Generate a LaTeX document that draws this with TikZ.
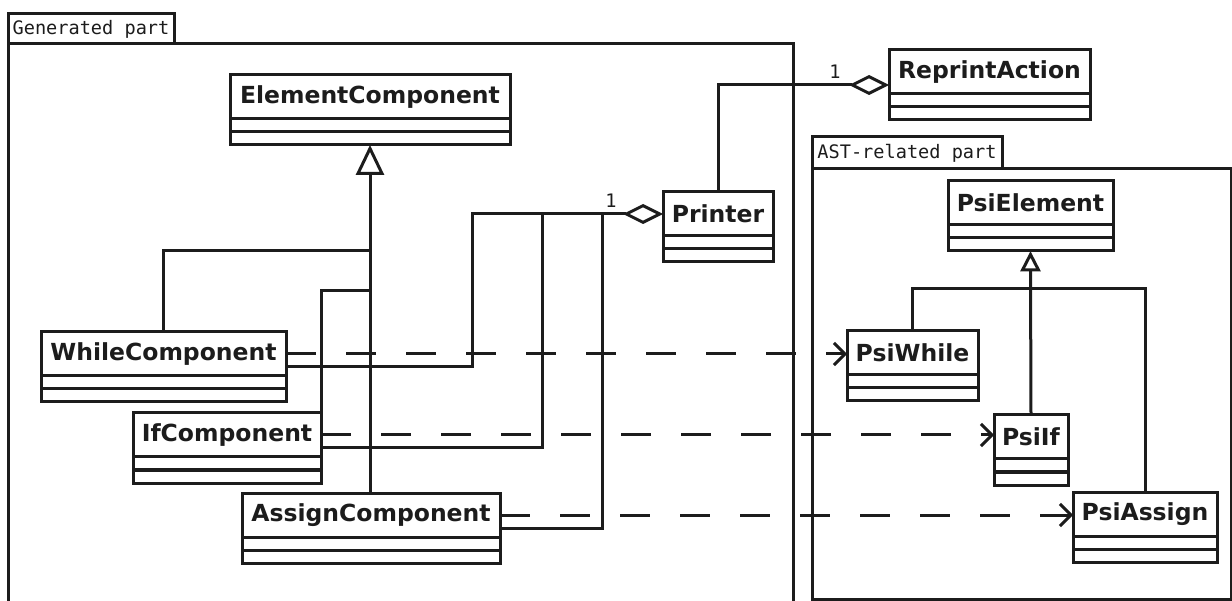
\documentclass[tikz,border=0pt]{standalone}
\usepackage{fontspec}
\setmainfont{DejaVu Sans}
\newfontfamily\monof{DejaVu Sans Mono}
\usetikzlibrary{arrows.meta,calc}
\definecolor{ink}{RGB}{28,28,28}
\tikzset{
  hdr/.style={draw=ink, fill=white, line width=3pt, minimum height=44pt, inner sep=0pt, outer sep=0pt,
    font=\bfseries\fontsize{23.5}{28}\selectfont, text=ink},
  cmp/.style={draw=ink, fill=white, line width=3pt, minimum height=13pt, inner sep=0pt, outer sep=0pt},
  mono/.style={font=\monof\fontsize{18.6}{22}\selectfont, inner sep=0pt, text=ink},
  frameline/.style={draw=ink, line width=3pt},
  dep/.style={draw=ink, line width=3pt, dash pattern=on 30pt off 30pt, -{Straight Barb[length=11pt,width=22pt]}},
  agg/.style={draw=ink, line width=3pt, -{Diamond[open,length=40pt,width=20pt]}, line join=miter},
  assoc/.style={draw=ink, line width=3pt},
  trihead/.style={draw=ink, fill=white, line width=3pt, line join=miter},
}
\newcommand\umlcls[5]{%
  \node[hdr, minimum width=#4pt, anchor=north west] (#1) at (#2,#3) {#5};
  \node[cmp, minimum width=#4pt, anchor=north] (#1a) at (#1.south) {};
  \node[cmp, minimum width=#4pt, anchor=north] (#1b) at (#1a.south) {};
}
\begin{document}
\begin{tikzpicture}[x=1pt,y=-1pt]
\useasboundingbox (0,0) rectangle (1232,601);
% frames
\draw[frameline] (8,14) rectangle (174,44);
\node[mono] (genlabel) at (91,29.5) {Generated part};
\draw[frameline] (8,603) -- (8,44) -- (793,44) -- (793,603);
\draw[frameline] (812,137) rectangle (1002,169);
\node[mono] (astlabel) at (907,153.5) {AST-related part};
\draw[frameline] (812,599) -- (812,169) -- (1231,169) -- (1231,599) -- cycle;

% classes
\umlcls{elem}{230}{75}{280}{ElementComponent}
\umlcls{while}{41}{332}{245}{WhileComponent}
\umlcls{ifc}{133}{413}{188}{IfComponent}
\umlcls{assign}{242}{493}{258}{AssignComponent}
\umlcls{printer}{663}{192}{110}{Printer}
\umlcls{reprint}{889}{50}{201}{ReprintAction}
\umlcls{pselem}{948}{181}{165}{PsiElement}
\umlcls{pswhile}{847}{331}{131}{PsiWhile}
\umlcls{psif}{994}{415}{74}{PsiIf}
\umlcls{psassign}{1073}{492}{144}{PsiAssign}

% junction coordinates
\coordinate (j1) at (370,251);
\coordinate (j2) at (370,291);
\coordinate (jp) at (472,214);
\coordinate (jq) at (542,214);
\coordinate (jr) at (602,214);

% generalization (generated part)
\draw[assoc] ($(elemb.south)+(0,28)$) -- (elemb.south |- assign.north);
\draw[trihead] ($(elemb.south)+(0,3.5)$) -- ++(-12,25) -- ++(24,0) -- cycle;
\draw[assoc] (while.north) |- (j1);
\draw[assoc] (ifc.north east) |- (j2);

% aggregation to Printer
\draw[agg] ($(while.east)+(0,13)$) -| (jp) -- (printer.west);
\draw[assoc] ($(ifc.east)+(0,13)$) -| (jq);
\draw[assoc] ($(assign.east)+(0,13)$) -| (jr);
\node[mono] (m1) at (611,201) {1};

% aggregation to ReprintAction
\draw[agg] (printer.north) |- ($(reprint.west)+(0,13)$);
\node[mono] (m2) at (835,72) {1};

% generalization (AST part)
\draw[assoc] ($(pselemb.south)+(0,19)$) -- (psif.north);
\draw[trihead] ($(pselemb.south)+(0,3.5)$) -- ++(-8,15.5) -- ++(16,0) -- cycle;
\draw[assoc] (pswhile.north) -- ++(0,-42) -| (psassign.north);

% dependencies
\draw[dep] (while.east) -- (while.east -| pswhile.west);
\draw[dep] (ifc.east) -- (ifc.east -| psif.west);
\draw[dep] (assign.east) -- (assign.east -| psassign.west);

% redraw classes on top
\umlcls{elem}{230}{75}{280}{ElementComponent}
\umlcls{while}{41}{332}{245}{WhileComponent}
\umlcls{ifc}{133}{413}{188}{IfComponent}
\umlcls{assign}{242}{493}{258}{AssignComponent}
\umlcls{printer}{663}{192}{110}{Printer}
\umlcls{reprint}{889}{50}{201}{ReprintAction}
\umlcls{pselem}{948}{181}{165}{PsiElement}
\umlcls{pswhile}{847}{331}{131}{PsiWhile}
\umlcls{psif}{994}{415}{74}{PsiIf}
\umlcls{psassign}{1073}{492}{144}{PsiAssign}
\end{tikzpicture}
\end{document}
